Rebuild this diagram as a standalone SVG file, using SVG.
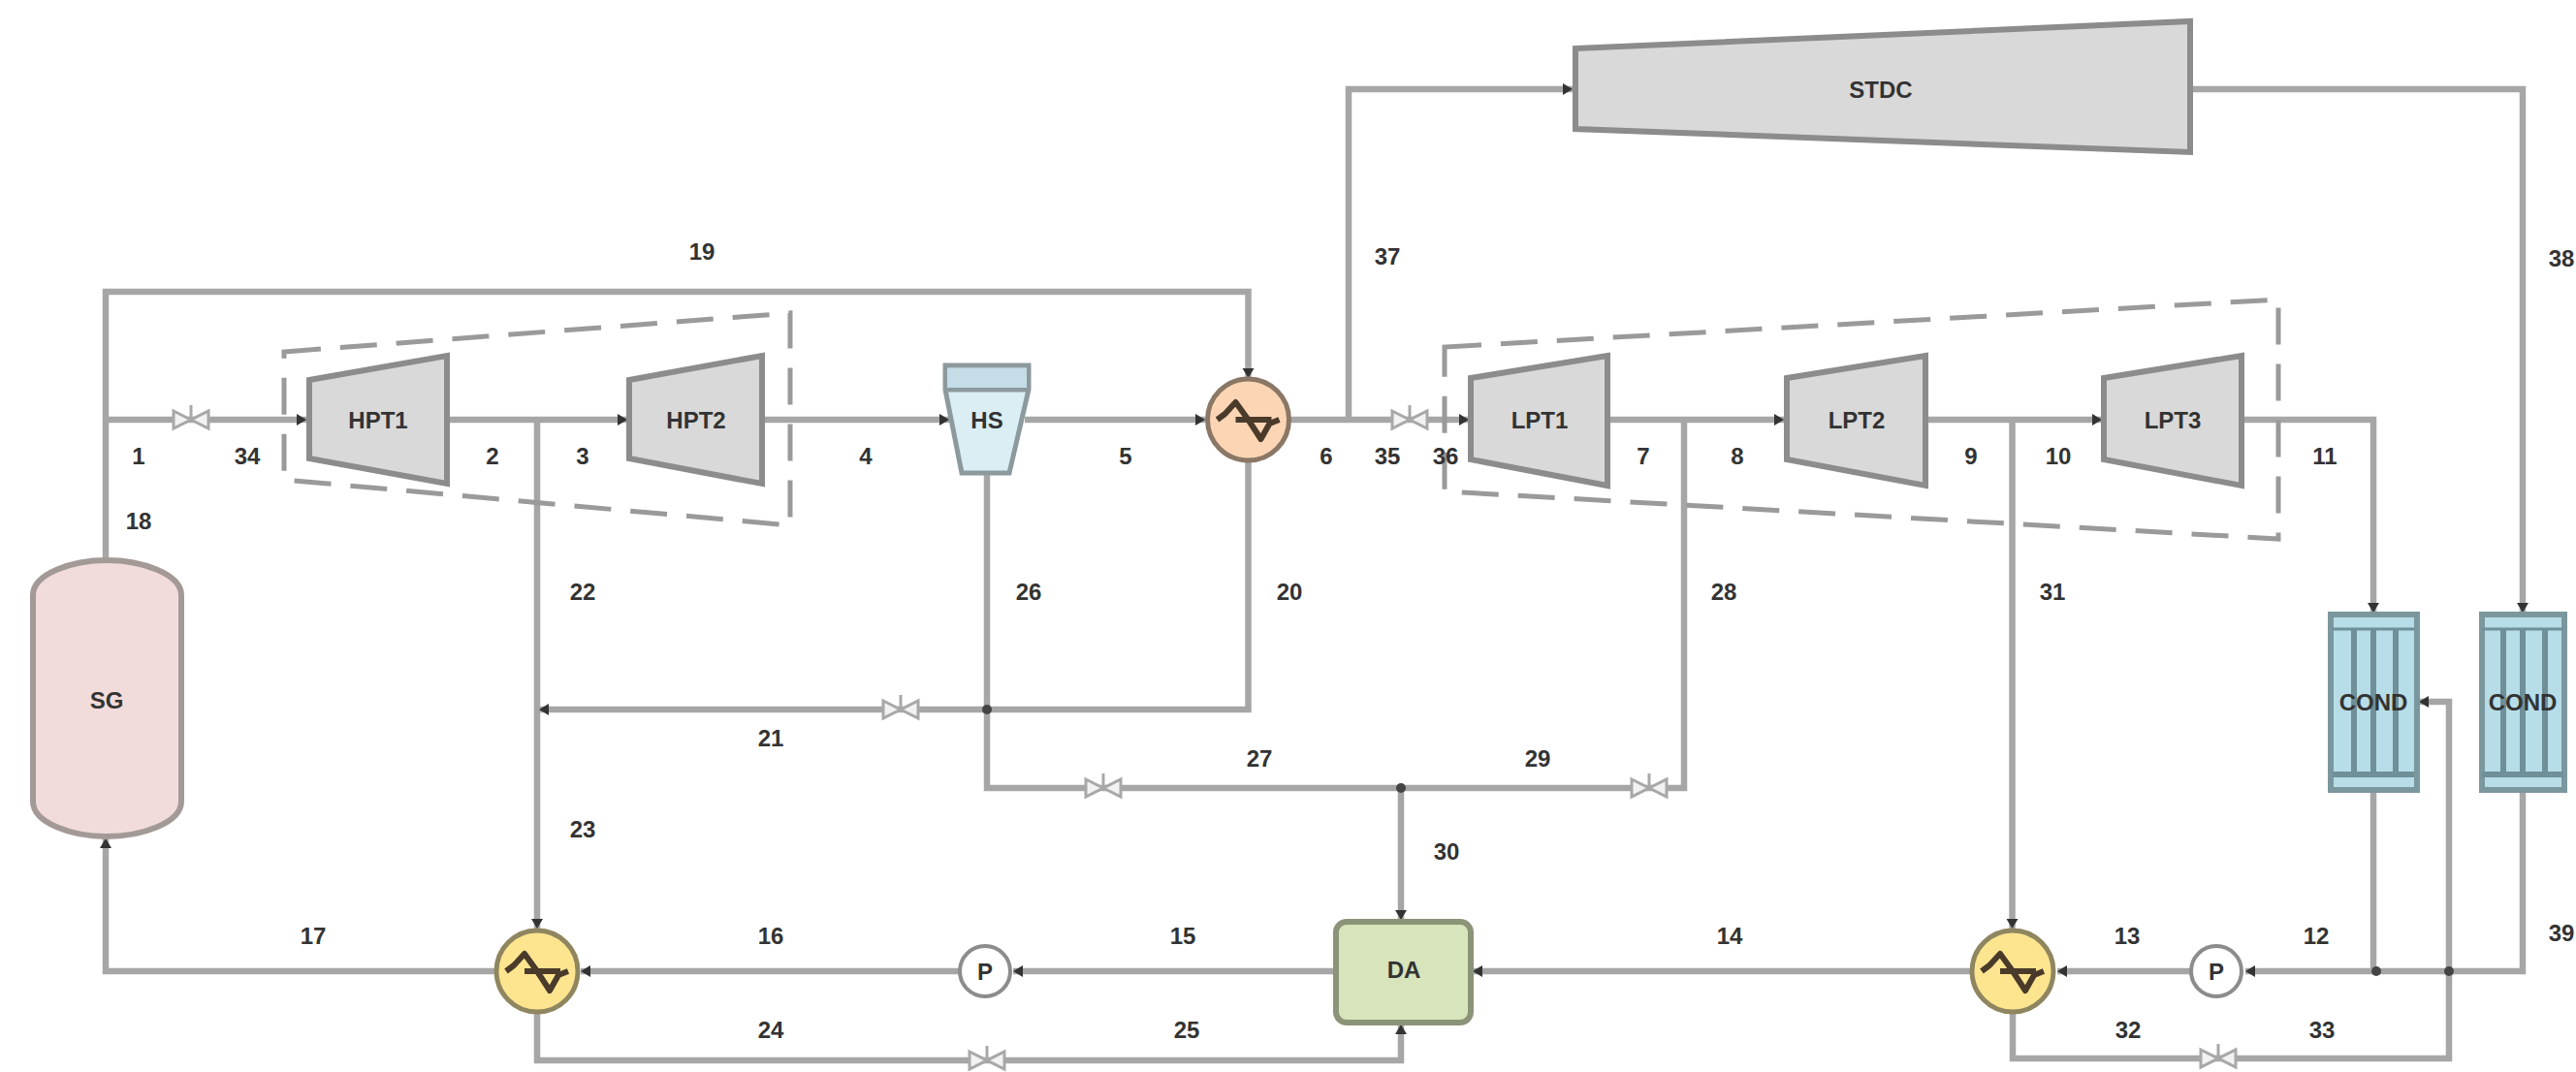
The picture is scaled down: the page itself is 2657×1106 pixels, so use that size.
<svg xmlns="http://www.w3.org/2000/svg" xmlns:xlink="http://www.w3.org/1999/xlink" width="2657" height="1106" viewBox="0 0 2657 1106">
<style>
text{font-family:"Liberation Sans",Arial,sans-serif;font-weight:bold;font-size:24px;fill:#333;text-anchor:middle;dominant-baseline:central}
.c{fill:none;stroke:#a6a6a6;stroke-width:6.5;stroke-linejoin:miter}
.a{marker-end:url(#arr)}
.turb{fill:#d9d9d9;stroke:#8c8c8c;stroke-width:6;stroke-linejoin:miter}
.dash{fill:none;stroke:#9a9a9a;stroke-width:5;stroke-dasharray:38 20}
.hx{stroke-width:5}
.sym{fill:none;stroke:#4a3a2a;stroke-width:6;stroke-linejoin:round}
.tube{stroke:#6f9099;stroke-width:6;fill:none}
.cond{fill:#b7dde8;stroke:#7b979e;stroke-width:6}
.dot{fill:#444}
</style>
<defs>
<marker id="arr" markerUnits="userSpaceOnUse" markerWidth="12" markerHeight="14" refX="10" refY="6" orient="auto"><path d="M0 0L10 6L0 12Z" fill="#333"/></marker>
<g id="valve"><path d="M-18 -9L18 9V-9L-18 9Z" fill="#f2f2f2" stroke="#a8a8a8" stroke-width="3"/><path d="M0 0V-15" stroke="#a8a8a8" stroke-width="3"/></g>
<g id="wave"><path class="sym" d="M-32 0L-24 -6L-13 -18L0 0L13 20L22 4L32 0"/><path class="sym" d="M-13 0H24"/></g>
<g id="condtubes"><path class="tube" d="M25 15V165M45 15V165M68 15V165M3 165H87"/><path d="M3 15H87" stroke="#6f9099" stroke-width="3"/></g>
</defs>

<g id="connectors">
<path class="c a" d="M109 578V301H1287.500V390"/>
<path class="c a" d="M109 433H316"/>
<path class="c a" d="M462 433H647"/>
<path class="c a" d="M554 433V958"/>
<path class="c a" d="M786 433H979"/>
<path class="c a" d="M1057 433H1243"/>
<path class="c a" d="M1330 433H1515"/>
<path class="c a" d="M1391 433V92H1622"/>
<path class="c a" d="M1658 433H1840"/>
<path class="c a" d="M1986 433H2168"/>
<path class="c a" d="M2075.500 433V958"/>
<path class="c a" d="M2312 433H2448V632"/>
<path class="c a" d="M2260 92H2602V632"/>
<path class="c a" d="M2602 815V1002H2316"/>
<path class="c" d="M2448 815V1002"/>
<path class="c a" d="M2259 1002H2122"/>
<path class="c a" d="M2033 1002H1519"/>
<path class="c a" d="M1378 1002H1045"/>
<path class="c a" d="M989 1002H599"/>
<path class="c a" d="M511 1002H109V865"/>
<path class="c a" d="M2076 1044V1092H2526V724H2495"/>
<path class="c a" d="M554 1043V1094H1445V1057"/>
<path class="c a" d="M1287.500 476V732H556"/>
<path class="c" d="M1018 488V813H1737V433"/>
<path class="c a" d="M1445 813V949"/>
<circle class="dot" cx="1018" cy="732" r="5"/>
<circle class="dot" cx="1445" cy="813" r="5"/>
<circle class="dot" cx="2451" cy="1002" r="5"/>
<circle class="dot" cx="2526" cy="1002" r="5"/>
<use href="#valve" x="197" y="433"/>
<use href="#valve" x="1454" y="433"/>
<use href="#valve" x="929" y="732"/>
<use href="#valve" x="1138" y="813"/>
<use href="#valve" x="1701" y="813"/>
<use href="#valve" x="1018" y="1094"/>
<use href="#valve" x="2288" y="1092"/>
</g>

<g id="casing-hp"><path class="dash" d="M293 363L815 323V542L293 495Z"/></g>
<g id="casing-lp"><path class="dash" d="M1490 358L2350 309V556L1490 507Z"/></g>

<g id="SG"><path d="M34 614C34 592 74 578 110 578C146 578 187 592 187 614V827C187 849 146 863 110 863C74 863 34 849 34 827Z" fill="#f2dcdb" stroke="#a39a98" stroke-width="6"/><text x="110" y="722">SG</text></g>
<g id="HPT1"><path class="turb" d="M319 392L461 367V499L319 473Z"/><text x="390" y="433">HPT1</text></g>
<g id="HPT2"><path class="turb" d="M649 392L786 367V499L649 473Z"/><text x="718" y="433">HPT2</text></g>
<g id="HS"><path d="M975 377H1061V402L1041 488H992L975 402Z" fill="#dbeef4" stroke="#8c9a9e" stroke-width="5"/><path d="M975 402H1061" stroke="#8c9a9e" stroke-width="5"/><rect x="977" y="380" width="82" height="20" fill="#c4dde6"/><text x="1018" y="433">HS</text></g>
<g id="RH"><circle class="hx" cx="1287.500" cy="433" r="42" fill="#fcd5b5" stroke="#8b7765"/><use href="#wave" x="1287.500" y="433"/></g>
<g id="LPT1"><path class="turb" d="M1517 390L1658 367V501L1517 474Z"/><text x="1588" y="433">LPT1</text></g>
<g id="LPT2"><path class="turb" d="M1843 390L1986 367V501L1843 474Z"/><text x="1915" y="433">LPT2</text></g>
<g id="LPT3"><path class="turb" d="M2170 390L2312 367V501L2170 474Z"/><text x="2241" y="433">LPT3</text></g>
<g id="STDC"><path class="turb" d="M1625 50L2259 22V157L1625 133Z"/><text x="1940" y="92">STDC</text></g>
<g id="COND1"><rect class="cond" x="2404" y="634" width="89" height="181"/><use href="#condtubes" x="2403" y="634"/><text x="2448" y="724">COND</text></g>
<g id="COND2"><rect class="cond" x="2560" y="634" width="85" height="181"/><use href="#condtubes" x="2557" y="634"/><text x="2602" y="724">COND</text></g>
<g id="FWH1"><circle class="hx" cx="554" cy="1002" r="42" fill="#fde58f" stroke="#8f8660"/><use href="#wave" x="554" y="1002"/></g>
<g id="FWH2"><circle class="hx" cx="2076" cy="1002" r="42" fill="#fde58f" stroke="#8f8660"/><use href="#wave" x="2076" y="1002"/></g>
<g id="P1"><circle cx="1016" cy="1002" r="26" fill="#fff" stroke="#8c8c8c" stroke-width="4"/><text x="1016" y="1002">P</text></g>
<g id="P2"><circle cx="2286" cy="1002" r="26" fill="#fff" stroke="#8c8c8c" stroke-width="4"/><text x="2286" y="1002">P</text></g>
<g id="DA"><rect x="1378" y="951" width="139" height="104" rx="11" fill="#d7e4bc" stroke="#8b9478" stroke-width="6"/><text x="1448" y="1000">DA</text></g>

<g id="labels">
<text x="143" y="470">1</text><text x="508" y="470">2</text><text x="601" y="470">3</text><text x="893" y="470">4</text><text x="1161" y="470">5</text><text x="1368" y="470">6</text><text x="1695" y="470">7</text><text x="1792" y="470">8</text><text x="2033" y="470">9</text><text x="2123" y="470">10</text><text x="2398" y="470">11</text>
<text x="2389" y="965">12</text><text x="2194" y="965">13</text><text x="1784" y="965">14</text><text x="1220" y="965">15</text><text x="795" y="965">16</text><text x="323" y="965">17</text>
<text x="143" y="537">18</text><text x="724" y="259">19</text><text x="1330" y="610">20</text><text x="795" y="761">21</text><text x="601" y="610">22</text><text x="601" y="855">23</text><text x="795" y="1062">24</text><text x="1224" y="1062">25</text>
<text x="1061" y="610">26</text><text x="1299" y="782">27</text><text x="1778" y="610">28</text><text x="1586" y="782">29</text><text x="1492" y="878">30</text><text x="2117" y="610">31</text><text x="2195" y="1062">32</text><text x="2395" y="1062">33</text>
<text x="255" y="470">34</text><text x="1431" y="470">35</text><text x="1491" y="470">36</text><text x="1431" y="264">37</text><text x="2642" y="266">38</text><text x="2642" y="962">39</text>
</g>
</svg>
